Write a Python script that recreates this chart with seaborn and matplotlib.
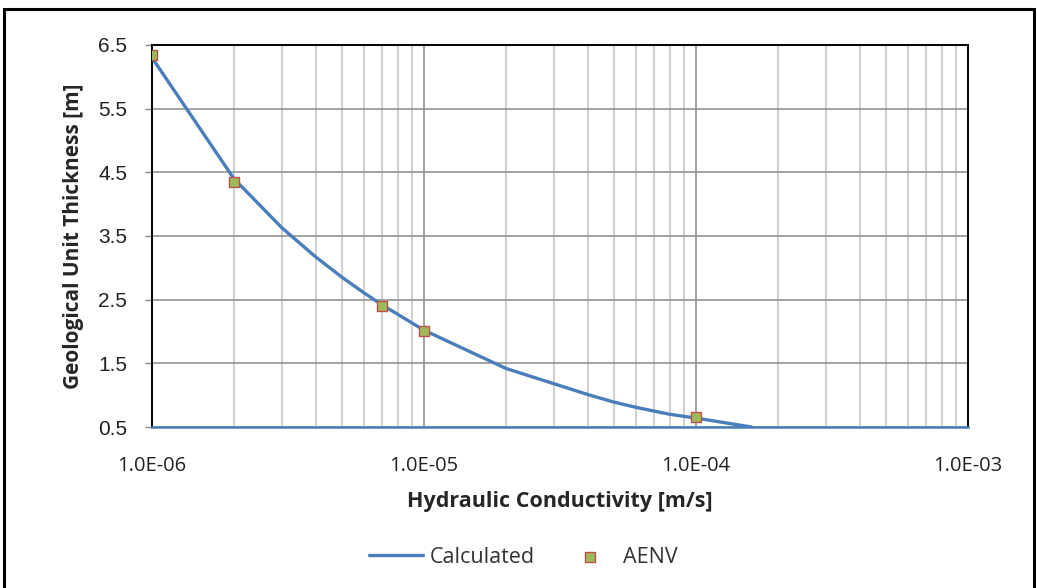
import numpy as np
import pandas as pd
import matplotlib
matplotlib.use("Agg")
import matplotlib.pyplot as plt
import seaborn as sns
from matplotlib.ticker import LogLocator, FuncFormatter, FixedLocator
from matplotlib.patches import Rectangle

# calculated curve
calc_k = [1e-6, 2e-6, 3e-6, 4e-6, 5e-6, 6e-6, 7e-6, 1e-5, 2e-5, 3e-5, 4e-5,
          5e-5, 6e-5, 7e-5, 8e-5, 1e-4, 1.6e-4]
calc_t = [6.30, 4.40, 3.63, 3.17, 2.85, 2.61, 2.42, 2.02, 1.42, 1.18, 1.01,
          0.89, 0.81, 0.75, 0.70, 0.64, 0.50]

# AENV points
aenv_k = [1e-6, 2e-6, 7e-6, 1e-5, 1e-4]
aenv_t = [6.35, 4.35, 2.40, 2.00, 0.65]

y_ticks = [0.5, 1.5, 2.5, 3.5, 4.5, 5.5, 6.5]
x_ticks = [1e-6, 1e-5, 1e-4, 1e-3]

calc = pd.DataFrame({"k": calc_k, "t": calc_t})
aenv = pd.DataFrame({"k": aenv_k, "t": aenv_t})

sns.set_style("white")
plt.rcParams["font.family"] = ["Liberation Sans", "DejaVu Sans"]
calibri_like = ["Open Sans", "DejaVu Sans"]

fig = plt.figure(figsize=(10.37, 5.88), dpi=100)
ax = fig.add_axes([0.1466, 0.2738, 0.7869, 0.6497])

sns.lineplot(data=calc, x="k", y="t", ax=ax, color="#4a7ebb", linewidth=2.4,
             label="Calculated", zorder=3)
sns.scatterplot(data=aenv, x="k", y="t", ax=ax, marker="s", s=60,
                color="#9bbb59", edgecolor="#c0504d", linewidth=1,
                label="AENV", zorder=4)

ax.set_xscale("log")
ax.set_xlim(1e-6, 1e-3)
ax.set_ylim(0.5, 6.5)
ax.xaxis.set_major_locator(FixedLocator(x_ticks))
ax.xaxis.set_minor_locator(LogLocator(base=10, subs=np.arange(2, 10), numticks=20))
ax.xaxis.set_major_formatter(FuncFormatter(lambda v, p: "%.1E" % v))
ax.xaxis.set_minor_formatter(FuncFormatter(lambda v, p: ""))
ax.set_yticks(y_ticks)
ax.set_yticklabels([f"{v:.1f}" for v in y_ticks])

ax.grid(which="major", axis="both", color="#8a8a8a", linewidth=1.1)
ax.grid(which="minor", axis="x", color="#c4c4c4", linewidth=1.1)
ax.set_axisbelow(True)

for s in ["top", "right", "left"]:
    ax.spines[s].set_color("black")
    ax.spines[s].set_linewidth(1.4)
ax.spines["bottom"].set_color("#4a7ebb")
ax.spines["bottom"].set_linewidth(1.8)

ax.tick_params(axis="x", which="major", direction="out", length=5, width=1,
               color="#4a7ebb", pad=16, labelsize=14.5, labelcolor="#222222")
ax.tick_params(axis="x", which="minor", length=0)
ax.tick_params(axis="y", direction="out", length=5, width=1, color="#8a8a8a",
               pad=13, labelsize=15, labelcolor="#222222", left=True)
for lab in ax.get_xticklabels():
    lab.set_family(calibri_like)

ax.set_xlabel("Hydraulic Conductivity [m/s]", fontsize=15.5, fontweight="bold",
              family=calibri_like, labelpad=11)
ax.set_ylabel("Geological Unit Thickness [m]", fontsize=15, fontweight="bold",
              family=calibri_like, labelpad=10)

leg = ax.legend(loc="center", bbox_to_anchor=(0.505, 0.052), bbox_transform=fig.transFigure,
                ncol=2, frameon=False, handlelength=2.5,
                columnspacing=1.3, handletextpad=0.3,
                prop={"family": calibri_like, "size": 15.5})
for t in leg.get_texts():
    t.set_color("#333333")

fig.patches.append(Rectangle((0.004, -0.02), 0.993, 1.005, transform=fig.transFigure,
                             fill=False, edgecolor="black", linewidth=2.2))

fig.savefig("out.png", dpi=100)
